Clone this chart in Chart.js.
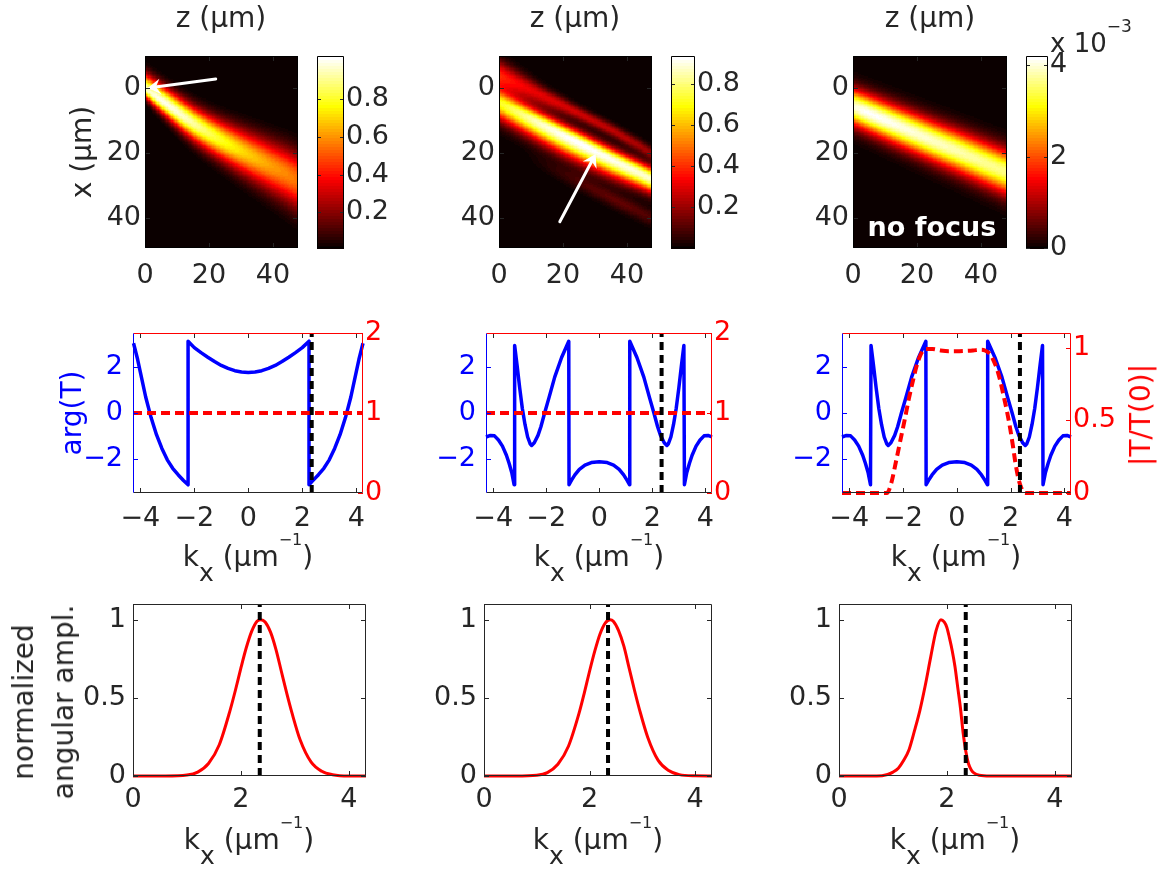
<!DOCTYPE html>
<html>
<head>
<meta charset="utf-8">
<script src="https://cdn.jsdelivr.net/npm/chart.js@4.4.1/dist/chart.umd.min.js"></script>
<style>
  html, body { margin: 0; padding: 0; background: #fff; overflow: hidden; }
  #wrap { position: relative; width: 1167px; height: 874px; font-family: "DejaVu Sans", sans-serif; color: #262626; }
  #wrap canvas { position: absolute; left: 0; top: 0; }
  .lbl { position: absolute; white-space: nowrap; font-size: 28px; line-height: 1; transform: translate(-50%, -50%); }
  .rot { transform: translate(-50%, -50%) rotate(-90deg); }
  .kx { position: absolute; white-space: nowrap; font-size: 28px; line-height: 1; transform: translateX(-50%); }
  .sb { position: relative; top: 15px; font-size: 25px; line-height: 1; }
  .sp { position: relative; top: -21px; font-size: 16px; line-height: 1; }
</style>
</head>
<body>
<div id="wrap">
  <div class="lbl" style="left:221px;top:18px">z (µm)</div>
  <div class="lbl" style="left:575px;top:18px">z (µm)</div>
  <div class="lbl" style="left:930px;top:18px">z (µm)</div>
  <div class="lbl rot" style="left:82px;top:152px">x (µm)</div>
  <div style="position:absolute;left:1050px;top:30px;font-size:26px;line-height:1;white-space:nowrap">x 10<span style="position:relative;top:-20px;font-size:17px">−3</span></div>
  <div class="lbl" style="left:932px;top:226px;color:#fff;font-weight:bold;font-size:27px">no focus</div>

  <div class="lbl rot" style="left:72px;top:413px;color:#0000ff">arg(T)</div>
  <div class="lbl rot" style="left:1141px;top:415px;color:#ff0000">|T/T(0)|</div>
  <div class="kx" style="left:248px;top:543px">k<span class="sb">x</span> (µm<span class="sp">−1</span>)</div>
  <div class="kx" style="left:599px;top:543px">k<span class="sb">x</span> (µm<span class="sp">−1</span>)</div>
  <div class="kx" style="left:956px;top:543px">k<span class="sb">x</span> (µm<span class="sp">−1</span>)</div>

  <div class="lbl rot" style="left:44px;top:702px;line-height:40px;text-align:center">normalized<br>angular ampl.</div>
  <div class="kx" style="left:249px;top:826px">k<span class="sb">x</span> (µm<span class="sp">−1</span>)</div>
  <div class="kx" style="left:598px;top:826px">k<span class="sb">x</span> (µm<span class="sp">−1</span>)</div>
  <div class="kx" style="left:955px;top:826px">k<span class="sb">x</span> (µm<span class="sp">−1</span>)</div>
</div>
<script>
// ---- data ----
// top row: beam parameters along z (centre line, 1/e half widths above/below, peak)
const heatZ = [0, 4, 8, 12, 16, 20, 24, 28, 32, 36, 40, 44, 48];

const beam1Center = [0, 2.9, 5.8, 8.7, 11.4, 13.8, 16.1, 18.2, 20.2, 22.2, 24.2, 26.2, 28.5];
const beam1Up     = [4.4, 4.5, 4.6, 4.8, 5.0, 5.3, 5.7, 6.1, 6.5, 6.9, 7.3, 7.7, 8.1];
const beam1Down   = [2.6, 3.4, 4.0, 4.6, 5.1, 5.5, 5.9, 6.4, 6.9, 7.4, 7.9, 8.4, 8.9];
const beam1Peak   = [0.95, 1.0, 1.0, 0.97, 0.92, 0.86, 0.8, 0.75, 0.7, 0.66, 0.62, 0.59, 0.56];

const beam2Center = [4.5, 6.5, 8.5, 10.5, 12.5, 14.5, 16.4, 18.4, 20.4, 22.4, 24.3, 26.2, 28.2];
const beam2Up     = [3.8, 3.7, 3.6, 3.55, 3.5, 3.45, 3.4, 3.4, 3.4, 3.4, 3.4, 3.4, 3.4];
const beam2Down   = [5.0, 5.1, 5.2, 5.3, 5.4, 5.5, 5.5, 5.4, 5.2, 5.0, 4.7, 4.4, 4.1];
const beam2Peak   = [0.7, 0.76, 0.82, 0.87, 0.9, 0.92, 0.93, 0.93, 0.92, 0.91, 0.9, 0.89, 0.88];
// upper side lobe in panel 2
const lobe2Center = [-4.0, -2.2, -0.4, 1.5, 3.5, 5.3, 7.3, 9.3, 11.3, 13.3, 15.6, 17.8, 20.3];
const lobe2Up     = [4.5, 4.0, 3.5, 3.0, 2.6, 2.3, 2.1, 2.0, 2.0, 2.0, 2.0, 2.0, 2.0];
const lobe2Down   = [5.0, 4.6, 4.1, 3.5, 3.0, 2.6, 2.3, 2.1, 2.0, 2.0, 2.0, 2.0, 2.0];
const lobe2Peak   = [0.4, 0.36, 0.33, 0.31, 0.3, 0.29, 0.28, 0.27, 0.26, 0.25, 0.24, 0.22, 0.2];
// faint lower side lobe in panel 2
const tail2Center = [16.5, 18.5, 20.5, 22.5, 24.5, 26.5, 28.4, 30.4, 32.4, 34.4, 36.3, 38.2, 40.2];
const tail2Width  = [2.5, 2.5, 2.5, 2.5, 2.5, 2.5, 2.5, 2.5, 2.5, 2.5, 2.5, 2.5, 2.5];
const tail2Peak   = [0, 0, 0, 0.02, 0.04, 0.06, 0.08, 0.1, 0.11, 0.12, 0.12, 0.11, 0.1];

const beam3Center = [5.6, 7.3, 9.0, 10.7, 12.4, 14.1, 15.8, 17.5, 19.1, 20.8, 22.5, 24.2, 25.9];
const beam3Up     = [5.3, 5.4, 5.5, 5.6, 5.7, 5.8, 5.9, 6.0, 6.1, 6.2, 6.3, 6.4, 6.5];
const beam3Down   = [5.6, 5.7, 5.8, 5.9, 6.0, 6.1, 6.2, 6.3, 6.4, 6.5, 6.6, 6.7, 6.8];
const beam3Peak   = [4.0, 4.15, 4.15, 4.1, 4.05, 4.0, 3.95, 3.9, 3.85, 3.8, 3.75, 3.7, 3.65]; // x 1e-3

const cbRange1 = [0.01, 1.03];
const cbRange2 = [0, 0.935];
const cbRange3 = [0, 4.2];
const cbTicks1 = [0.2, 0.4, 0.6, 0.8];
const cbTicks2 = [0.2, 0.4, 0.6, 0.8];
const cbTicks3 = [0, 2, 4];
const heatTicks = [0, 20, 40];

// arrows (z, x) tail -> head
const arrow1 = [[22.1, -2.9], [0.85, -0.1]];
const arrow2 = [[19.0, 41.1], [30.2, 20.2]];

// middle row: arg(T)
const argK1 = [-4.25, -4.1, -4.0, -3.8, -3.6, -3.4, -3.2, -3.0, -2.8, -2.6, -2.4, -2.23, -2.23, -2.0, -1.75, -1.5, -1.25, -1.0, -0.75, -0.5, -0.25, 0,
               0.25, 0.5, 0.75, 1.0, 1.25, 1.5, 1.75, 2.0, 2.25, 2.25, 2.4, 2.6, 2.8, 3.0, 3.2, 3.4, 3.6, 3.8, 4.0, 4.1, 4.25];
const argT1 = [3.05, 2.35, 1.8, 0.7, -0.2, -0.95, -1.55, -2.05, -2.42, -2.7, -2.95, -3.14, 3.14, 2.86, 2.64, 2.44, 2.25, 2.08, 1.95, 1.85, 1.79, 1.77,
               1.79, 1.85, 1.95, 2.08, 2.25, 2.44, 2.64, 2.86, 3.14, -3.14, -2.95, -2.7, -2.42, -2.05, -1.55, -0.95, -0.2, 0.7, 1.8, 2.35, 3.05];

const argK2 = [-4.27, -4.1, -3.95, -3.8, -3.65, -3.5, -3.4, -3.3, -3.21, -3.19, -3.1, -3.0, -2.9, -2.8, -2.7, -2.6, -2.55, -2.45, -2.31, -2.2, -2.06, -1.9, -1.68, -1.42, -1.15,
               -1.14, -1.05, -0.92, -0.75, -0.54, -0.3, 0, 0.3, 0.54, 0.75, 0.92, 1.05, 1.14,
               1.15, 1.42, 1.68, 1.9, 2.06, 2.2, 2.31, 2.45, 2.55, 2.6, 2.7, 2.8, 2.9, 3.0, 3.1, 3.19, 3.21, 3.3, 3.4, 3.5, 3.65, 3.8, 3.95, 4.1, 4.25];
const argT2 = [-1.05, -0.98, -1.0, -1.18, -1.45, -1.85, -2.2, -2.6, -3.14, 2.95, 2.1, 1.1, 0.2, -0.5, -1.05, -1.36, -1.42, -1.3, -0.98, -0.6, 0, 0.65, 1.57, 2.43, 3.14,
               -3.14, -2.95, -2.71, -2.47, -2.28, -2.17, -2.13, -2.17, -2.28, -2.47, -2.71, -2.95, -3.14,
               3.14, 2.43, 1.57, 0.65, 0, -0.6, -0.98, -1.3, -1.42, -1.36, -1.05, -0.5, 0.2, 1.1, 2.1, 2.95, -3.14, -2.6, -2.2, -1.85, -1.45, -1.18, -1.0, -0.98, -1.05];

// |T/T(0)| (panels 1-2 flat, panel 3 low-pass)
const flatK = [-4.27, 4.25];
const flatT = [1, 1];
const magK3 = [-4.27, -2.6, -2.45, -2.24, -2.1, -1.93, -1.78, -1.62, -1.5, -1.37, -1.25, -1.15, -0.9, -0.6, -0.3, 0,
               0.3, 0.6, 0.9, 1.05, 1.24, 1.37, 1.5, 1.62, 1.74, 1.87, 1.99, 2.1, 2.18, 2.28, 2.37, 2.47, 2.55, 4.25];
const magT3 = [0, 0, 0.06, 0.235, 0.36, 0.51, 0.65, 0.78, 0.87, 0.94, 0.98, 0.99, 0.99, 0.98, 0.975, 0.975,
               0.977, 0.98, 0.985, 0.98, 0.954, 0.91, 0.85, 0.77, 0.67, 0.56, 0.44, 0.31, 0.21, 0.11, 0.05, 0.01, 0, 0];

const markerK = 2.35;   // dashed vertical line

// bottom row: normalized angular amplitude
const ampK1 = [0, 0.6, 1.0, 1.2, 1.4, 1.6, 1.8, 1.9, 2.0, 2.1, 2.2, 2.3, 2.37, 2.45, 2.55, 2.65, 2.75, 2.85, 2.95, 3.1, 3.3, 3.5, 3.7, 4.0, 4.32];
const ampA1 = [0, 0, 0.006, 0.025, 0.08, 0.2, 0.42, 0.55, 0.69, 0.82, 0.925, 0.99, 1.0, 0.985, 0.92, 0.81, 0.67, 0.53, 0.4, 0.23, 0.09, 0.03, 0.008, 0, 0];
const ampK2 = [0, 0.6, 1.0, 1.2, 1.4, 1.6, 1.8, 1.9, 2.0, 2.1, 2.2, 2.3, 2.39, 2.45, 2.55, 2.65, 2.75, 2.85, 2.95, 3.1, 3.3, 3.5, 3.7, 4.0, 4.32];
const ampA2 = [0, 0, 0.005, 0.022, 0.075, 0.19, 0.4, 0.53, 0.67, 0.8, 0.91, 0.98, 1.0, 0.99, 0.93, 0.83, 0.69, 0.55, 0.42, 0.25, 0.1, 0.035, 0.009, 0.001, 0];
const ampK3 = [0, 0.7, 0.9, 1.0, 1.1, 1.2, 1.3, 1.4, 1.5, 1.6, 1.7, 1.8, 1.89, 1.95, 2.0, 2.05, 2.1, 2.15, 2.2, 2.25, 2.3, 2.35, 2.4, 2.45, 2.5, 2.6, 2.8, 4.32];
const ampA3 = [0, 0, 0.01, 0.025, 0.05, 0.1, 0.17, 0.29, 0.42, 0.58, 0.76, 0.93, 1.0, 0.985, 0.95, 0.88, 0.8, 0.7, 0.57, 0.44, 0.28, 0.16, 0.08, 0.04, 0.02, 0.005, 0, 0];

const kTicks = [-4, -2, 0, 2, 4];
const argTicks = [-2, 0, 2];
const magTicks12 = [0, 1, 2];
const magTicks3 = [0, 0.5, 1];
const ampKTicks = [0, 2, 4];
const ampTicks = [0, 0.5, 1];

// ---- drawing ----
const W = 1167, H = 874;
const FONT = 'DejaVu Sans';
const TXT = '#262626';
const BLUE = '#0000ff', RED = '#ff0000';
const wrap = document.getElementById('wrap');

// matlab "hot" with 64 levels
const hot64 = [];
for (let i = 0; i < 64; i++) {
  const c = v => Math.round(255 * Math.max(0, Math.min(1, v)));
  hot64.push(`rgb(${c((i + 1) / 24)},${c((i + 1 - 24) / 24)},${c((i + 1 - 48) / 16)})`);
}
function hotColor(v, lo, hi) {
  const i = Math.floor((v - lo) / (hi - lo) * 64);
  return hot64[Math.max(0, Math.min(63, i))];
}

function atZ(arr, z) {
  let i = 0;
  while (i < heatZ.length - 2 && z > heatZ[i + 1]) i++;
  const t = Math.max(0, Math.min(1, (z - heatZ[i]) / (heatZ[i + 1] - heatZ[i])));
  return arr[i] * (1 - t) + arr[i + 1] * t;
}

function fmt(v) {
  return v < 0 ? '\u2212' + Math.abs(v) : String(v);
}

function axis(o) {
  const horiz = o.pos === 'bottom' || o.pos === 'top';
  return {
    type: 'linear', position: o.pos, min: o.min, max: o.max, reverse: !!o.reverse,
    display: o.display !== false,
    grid: { display: false, drawTicks: false }, border: { display: false },
    ticks: { color: o.color || TXT, padding: o.pad || 0, font: { family: FONT, size: 27 },
             autoSkip: false, maxRotation: 0, minRotation: 0, callback: v => fmt(v) },
    afterBuildTicks: s => { s.ticks = (o.ticks || []).map(v => ({ value: v })); },
    afterFit: s => { if (horiz) s.height = o.size; else s.width = o.size; }
  };
}

function line(ks, vs, color, width, dash, yAxisID, smooth) {
  return {
    data: ks.map((k, i) => ({ x: k, y: vs[i] })),
    showLine: true, borderColor: color, backgroundColor: color, borderWidth: width,
    borderDash: dash || [], pointRadius: 0, yAxisID: yAxisID || 'y', clip: false,
    tension: smooth ? 0.4 : 0, cubicInterpolationMode: smooth ? 'monotone' : 'default',
    borderCapStyle: 'butt', borderJoinStyle: 'round'
  };
}

function framePlugin(c) {
  return { id: 'frame', afterDraw(chart) {
    const { ctx, chartArea: a } = chart;
    const l = Math.round(a.left) + 0.5, r = Math.round(a.right) - 0.5, t = Math.round(a.top) + 0.5, b = Math.round(a.bottom) - 0.5;
    ctx.save(); ctx.lineWidth = 1;
    [[c.top, l, t, r, t], [c.right, r, t, r, b], [c.bottom, l, b, r, b], [c.left, l, t, l, b]].forEach(([col, x0, y0, x1, y1]) => {
      if (!col) return;
      ctx.strokeStyle = col; ctx.beginPath(); ctx.moveTo(x0, y0); ctx.lineTo(x1, y1); ctx.stroke();
    });
    ctx.restore();
  } };
}

// inward tick marks
function ticksPlugin(specs, len) {
  return { id: 'inticks', afterDraw(chart) {
    const { ctx, chartArea: a } = chart;
    ctx.save(); ctx.lineWidth = 1;
    specs.forEach(sp => {
      const s = chart.scales[sp.id];
      ctx.strokeStyle = sp.color;
      s.ticks.forEach(t => {
        const p = Math.round(s.getPixelForValue(t.value)) + 0.5;
        ctx.beginPath();
        sp.sides.forEach(side => {
          if (side === 'bottom') { ctx.moveTo(p, a.bottom); ctx.lineTo(p, a.bottom - len); }
          if (side === 'top') { ctx.moveTo(p, a.top); ctx.lineTo(p, a.top + len); }
          if (side === 'left') { ctx.moveTo(a.left, p); ctx.lineTo(a.left + len, p); }
          if (side === 'right') { ctx.moveTo(a.right, p); ctx.lineTo(a.right - len, p); }
        });
        ctx.stroke();
      });
    });
    ctx.restore();
  } };
}

function heatPlugin(beams, range) {
  return { id: 'heat', beforeDatasetsDraw(chart) {
    const { ctx, chartArea: a, scales: { x, y } } = chart;
    const DZ = 0.4, DX = 0.4;
    ctx.save();
    ctx.beginPath(); ctx.rect(a.left, a.top, a.right - a.left, a.bottom - a.top); ctx.clip();
    for (let z = x.min; z < x.max; z += DZ) {
      const zc = z + DZ / 2;
      const ps = beams.map(b => ({ c: atZ(b.c, zc), u: atZ(b.up, zc), d: atZ(b.down, zc), p: atZ(b.peak, zc) }));
      const px0 = Math.floor(x.getPixelForValue(z)), px1 = Math.ceil(x.getPixelForValue(z + DZ));
      for (let xv = y.min; xv < y.max; xv += DX) {
        const xc = xv + DX / 2;
        let v = 0;
        ps.forEach(q => { const d = xc - q.c; const w = d < 0 ? q.u : q.d; v += q.p * Math.exp(-(d * d) / (w * w)); });
        const py0 = y.getPixelForValue(xv), py1 = y.getPixelForValue(xv + DX);
        ctx.fillStyle = hotColor(v, range[0], range[1]);
        ctx.fillRect(px0, Math.floor(Math.min(py0, py1)), px1 - px0, Math.ceil(Math.abs(py1 - py0)) + 1);
      }
    }
    ctx.restore();
  } };
}

function colorbarPlugin(range) {
  return { id: 'cbar', beforeDatasetsDraw(chart) {
    const { ctx, chartArea: a, scales: { y } } = chart;
    ctx.save();
    for (let i = 0; i < 64; i++) {
      const v0 = range[0] + (range[1] - range[0]) * i / 64, v1 = range[0] + (range[1] - range[0]) * (i + 1) / 64;
      const p0 = y.getPixelForValue(v0), p1 = y.getPixelForValue(v1);
      ctx.fillStyle = hot64[i];
      ctx.fillRect(a.left, Math.floor(p1), a.right - a.left, Math.ceil(p0 - p1) + 1);
    }
    ctx.restore();
  } };
}

function arrowPlugin(arrow) {
  return { id: 'arrow', afterDatasetsDraw(chart) {
    const { ctx, scales: { x, y } } = chart;
    const x0 = x.getPixelForValue(arrow[0][0]), y0 = y.getPixelForValue(arrow[0][1]);
    const x1 = x.getPixelForValue(arrow[1][0]), y1 = y.getPixelForValue(arrow[1][1]);
    const ang = Math.atan2(y1 - y0, x1 - x0), L = 15, A = 0.55;
    ctx.save();
    ctx.strokeStyle = '#fff'; ctx.fillStyle = '#fff'; ctx.lineWidth = 3; ctx.lineCap = 'round';
    ctx.beginPath(); ctx.moveTo(x0, y0); ctx.lineTo(x1 - 6 * Math.cos(ang), y1 - 6 * Math.sin(ang)); ctx.stroke();
    ctx.beginPath();
    ctx.moveTo(x1, y1);
    ctx.lineTo(x1 - L * Math.cos(ang - A), y1 - L * Math.sin(ang - A));
    ctx.lineTo(x1 - 0.55 * L * Math.cos(ang), y1 - 0.55 * L * Math.sin(ang));
    ctx.lineTo(x1 - L * Math.cos(ang + A), y1 - L * Math.sin(ang + A));
    ctx.closePath(); ctx.fill();
    ctx.restore();
  } };
}

function build(box, sz, scales, datasets, plugins) {
  const cv = document.createElement('canvas');
  cv.width = W; cv.height = H; cv.style.width = W + 'px'; cv.style.height = H + 'px';
  wrap.insertBefore(cv, wrap.firstChild);
  new Chart(cv, {
    type: 'scatter',
    data: { datasets },
    options: {
      responsive: false, animation: false, devicePixelRatio: 1, events: [],
      layout: { padding: {
        left: box.l - (sz.left || 0), right: W - box.r - (sz.right || 0),
        top: box.t, bottom: H - box.b - (sz.bottom || 0) } },
      plugins: { legend: { display: false }, tooltip: { enabled: false } },
      scales
    },
    plugins
  });
}

// ---- top row: intensity maps ----
const heatBoxes = [{ l: 145, r: 298, t: 56, b: 248 }, { l: 499, r: 652, t: 56, b: 248 }, { l: 853, r: 1007, t: 56, b: 248 }];
const cbBoxes = [{ l: 317, r: 344, t: 56, b: 248 }, { l: 671, r: 695, t: 56, b: 248 }, { l: 1026, r: 1048, t: 56, b: 248 }];
const heatBeams = [
  [{ c: beam1Center, up: beam1Up, down: beam1Down, peak: beam1Peak }],
  [{ c: beam2Center, up: beam2Up, down: beam2Down, peak: beam2Peak },
   { c: lobe2Center, up: lobe2Up, down: lobe2Down, peak: lobe2Peak },
   { c: tail2Center, up: tail2Width, down: tail2Width, peak: tail2Peak }],
  [{ c: beam3Center, up: beam3Up, down: beam3Down, peak: beam3Peak }]
];
const cbRanges = [cbRange1, cbRange2, cbRange3];
const cbTicks = [cbTicks1, cbTicks2, cbTicks3];
const arrows = [arrow1, arrow2, null];

heatBoxes.forEach((box, i) => {
  const zMax = (box.r - box.l) / 3.2;
  const plugins = [heatPlugin(heatBeams[i], cbRanges[i]),
    ticksPlugin([{ id: 'x', sides: ['bottom', 'top'], color: TXT }, { id: 'y', sides: ['left', 'right'], color: TXT }], 5),
    framePlugin({ top: '#000', right: '#000', bottom: '#000', left: '#000' })];
  if (arrows[i]) plugins.push(arrowPlugin(arrows[i]));
  build(box, { left: 60, bottom: 40 }, {
    x: axis({ pos: 'bottom', min: 0, max: zMax, ticks: heatTicks, pad: 12, size: 40 }),
    y: axis({ pos: 'left', min: -10, max: 49.2, reverse: true, ticks: heatTicks, pad: 4, size: 60 })
  }, [], plugins);

  build(cbBoxes[i], { right: 60 }, {
    x: axis({ pos: 'bottom', min: 0, max: 1, display: false, size: 0 }),
    y: axis({ pos: 'right', min: cbRanges[i][0], max: cbRanges[i][1], ticks: cbTicks[i], pad: 2, size: 60 })
  }, [], [colorbarPlugin(cbRanges[i]),
    ticksPlugin([{ id: 'y', sides: ['left', 'right'], color: TXT }], 4),
    framePlugin({ top: '#000', right: '#000', bottom: '#000', left: '#000' })]);
});

// ---- middle row: transmission phase / magnitude ----
const midBoxes = [{ l: 133, r: 363, t: 333, b: 493 }, { l: 486, r: 712, t: 333, b: 493 }, { l: 842, r: 1071, t: 333, b: 493 }];
const midArg = [[argK1, argT1], [argK2, argT2], [argK2, argT2]];
midBoxes.forEach((box, i) => {
  const third = i === 2;
  const ds = [
    line([markerK, markerK], [-3.5, 3.5], '#000', 4, [8, 5], 'y'),
    third ? line(magK3, magT3, RED, 4, [9, 5], 'y2', true) : line(flatK, flatT, RED, 4, [9, 5], 'y2'),
    line(midArg[i][0], midArg[i][1], BLUE, 3.5, null, 'y')
  ];
  build(box, { left: 70, right: 70, bottom: 40 }, {
    x: axis({ pos: 'bottom', min: -4.27, max: 4.25, ticks: kTicks, pad: 10, size: 40 }),
    y: axis({ pos: 'left', min: -3.5, max: 3.5, ticks: argTicks, color: BLUE, pad: 10, size: 70 }),
    y2: axis({ pos: 'right', min: 0, max: third ? 1.1 : 2, ticks: third ? magTicks3 : magTicks12, color: RED, pad: 2, size: 70 })
  }, ds, [
    ticksPlugin([{ id: 'x', sides: ['bottom', 'top'], color: TXT }, { id: 'y', sides: ['left'], color: BLUE }, { id: 'y2', sides: ['right'], color: RED }], 5),
    framePlugin({ top: RED, right: RED, bottom: TXT, left: BLUE })
  ]);
});

// ---- bottom row: angular spectrum ----
const botBoxes = [{ l: 133, r: 366, t: 604, b: 776 }, { l: 484, r: 712, t: 604, b: 776 }, { l: 839, r: 1072, t: 604, b: 776 }];
const botAmp = [[ampK1, ampA1], [ampK2, ampA2], [ampK3, ampA3]];
botBoxes.forEach((box, i) => {
  build(box, { left: 70, bottom: 40 }, {
    x: axis({ pos: 'bottom', min: 0, max: 4.32, ticks: ampKTicks, pad: 8, size: 40 }),
    y: axis({ pos: 'left', min: 0, max: 1.1, ticks: ampTicks, pad: 7, size: 70 })
  }, [
    line([markerK, markerK], [0, 1.1], '#000', 4, [8, 5], 'y'),
    line(botAmp[i][0], botAmp[i][1], RED, 3, null, 'y', true)
  ], [
    ticksPlugin([{ id: 'x', sides: ['bottom', 'top'], color: TXT }, { id: 'y', sides: ['left', 'right'], color: TXT }], 5),
    framePlugin({ top: TXT, right: TXT, bottom: TXT, left: TXT })
  ]);
});
</script>
</body>
</html>
